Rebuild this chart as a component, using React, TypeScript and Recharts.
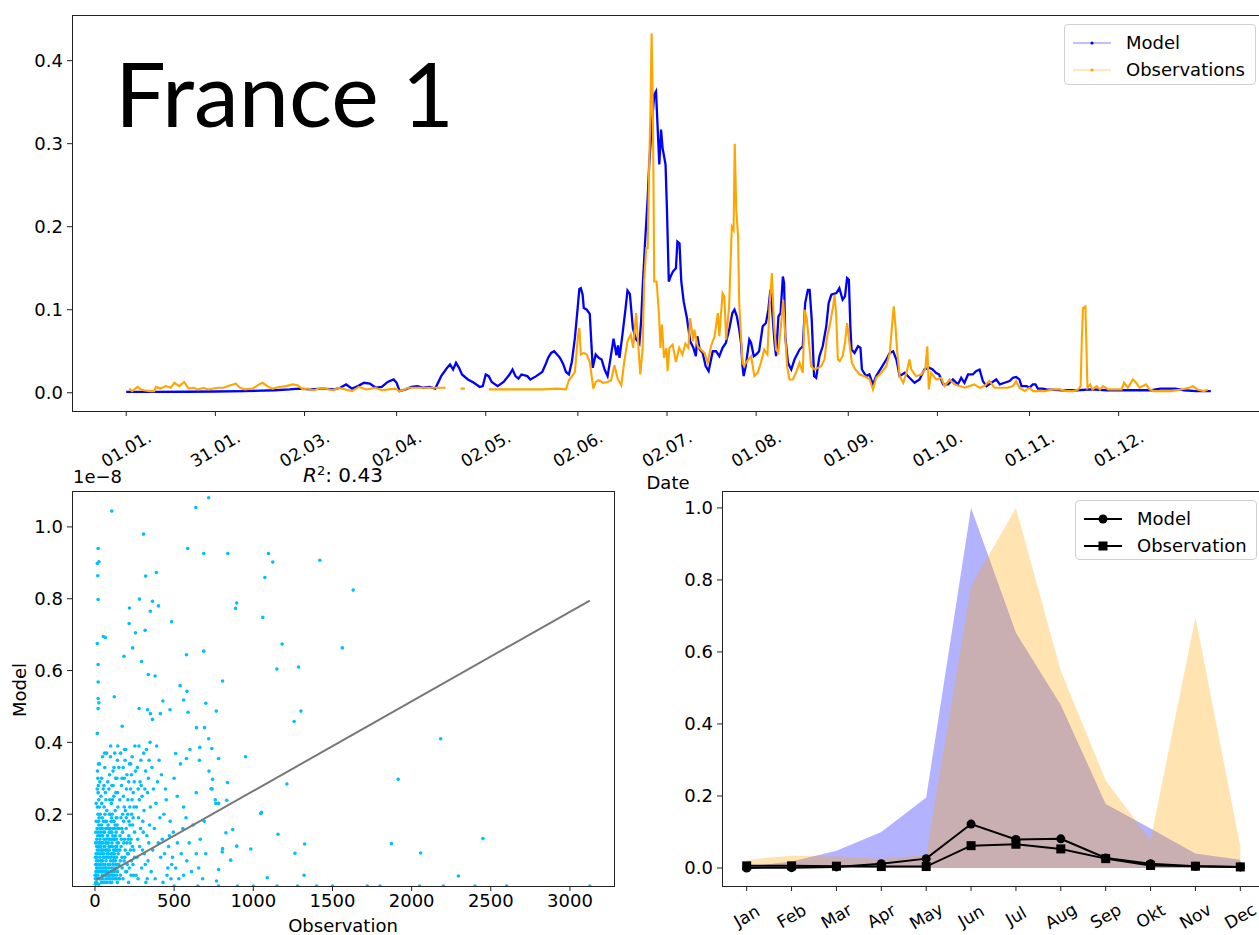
import React from 'react';
import { LineChart, Line, XAxis, YAxis, ScatterChart, Scatter, ComposedChart, Area } from 'recharts';

const FONT = '"DejaVu Sans", Verdana, sans-serif';

// ---------- Top chart: daily series (day of year, value) ----------
const modelSeries: [number, number][] = [
  [0, 0.001], [10, 0.001], [20, 0.0012], [30, 0.0015], [40, 0.002], [50, 0.003], [55, 0.004], [58, 0.005],
  [62, 0.004], [66, 0.005], [70, 0.004], [72, 0.006], [74, 0.01], [76, 0.005], [78, 0.008], [80, 0.012],
  [82, 0.011], [84, 0.006], [86, 0.007], [88, 0.013], [90, 0.016], [91, 0.012], [92, 0.002], [94, 0.004],
  [96, 0.007], [98, 0.008], [100, 0.006], [102, 0.007], [104, 0.005], [106, 0.02], [108, 0.03], [109, 0.034],
  [110, 0.028], [111, 0.036], [112, 0.03], [113, 0.022], [115, 0.016], [117, 0.012], [119, 0.007], [120, 0.008],
  [121, 0.022], [122, 0.02], [123, 0.013], [125, 0.008], [127, 0.013], [129, 0.022], [130, 0.028], [131, 0.02],
  [132, 0.017], [133, 0.022], [135, 0.02], [136, 0.016], [138, 0.02], [140, 0.025], [141, 0.033], [142, 0.042],
  [143, 0.048], [144, 0.05], [145, 0.046], [146, 0.042], [147, 0.035], [148, 0.025], [149, 0.022], [150, 0.038],
  [151, 0.066], [152, 0.105], [152.5, 0.125], [153, 0.126], [153.6, 0.118], [154, 0.102], [155, 0.1], [156, 0.095],
  [157, 0.03], [158, 0.046], [159, 0.042], [160, 0.04], [161, 0.028], [162, 0.02], [163, 0.042], [164, 0.065],
  [165, 0.045], [165.5, 0.057], [166, 0.042], [167, 0.07], [168, 0.1], [168.7, 0.123], [169.5, 0.119], [170.5, 0.078],
  [171.5, 0.065], [172.7, 0.059], [173.3, 0.087], [173.8, 0.127], [174.6, 0.18], [175.5, 0.235], [176, 0.275],
  [176.8, 0.319], [177.7, 0.359], [178.3, 0.363], [178.8, 0.323], [179.4, 0.275], [180, 0.317], [180.5, 0.295],
  [181.5, 0.275], [182, 0.218], [182.6, 0.134], [183.2, 0.14], [184, 0.146], [185, 0.15], [185.5, 0.182],
  [186.2, 0.18], [186.8, 0.134], [187.6, 0.11], [188.7, 0.09], [189.8, 0.062], [190.9, 0.054], [191.7, 0.044],
  [192.2, 0.068], [193, 0.052], [194, 0.048], [195, 0.032], [196, 0.026], [197.4, 0.05], [198.5, 0.05],
  [199.6, 0.044], [200.7, 0.054], [201.8, 0.06], [202.9, 0.076], [204, 0.096], [204.7, 0.1], [205.5, 0.092],
  [206.3, 0.076], [206.9, 0.06], [207.4, 0.032], [207.8, 0.02], [208.5, 0.032], [209.7, 0.064], [210.3, 0.06],
  [211.2, 0.044], [212, 0.046], [213, 0.05], [214.2, 0.08], [215.3, 0.084], [216.1, 0.1], [216.8, 0.124],
  [217.3, 0.104], [218.2, 0.06], [218.7, 0.044], [219.5, 0.092], [220.2, 0.096], [221, 0.14], [221.4, 0.132],
  [221.8, 0.068], [222.7, 0.036], [223.8, 0.028], [224.9, 0.04], [226.6, 0.052], [227.7, 0.056], [228.5, 0.108],
  [229.4, 0.124], [230, 0.124], [230.7, 0.088], [231.5, 0.02], [232.2, 0.018], [233.3, 0.044], [234.4, 0.056],
  [235.6, 0.08], [236.4, 0.108], [237.3, 0.118], [239, 0.12], [240, 0.126], [241.1, 0.112], [241.9, 0.116],
  [242.6, 0.138], [243.2, 0.136], [243.7, 0.08], [244.1, 0.052], [245.1, 0.048], [246.3, 0.056], [247.1, 0.054],
  [247.6, 0.028], [249, 0.02], [250.1, 0.022], [251.3, 0.01], [252.4, 0.02], [254.1, 0.03], [255.8, 0.04],
  [257, 0.048], [258.1, 0.05], [259.2, 0.04], [260.3, 0.02], [262, 0.024], [263.6, 0.018], [265.3, 0.012],
  [267, 0.016], [268.6, 0.028], [270.3, 0.03], [271.4, 0.028], [272.5, 0.024], [273.6, 0.022], [274.9, 0.01],
  [276.6, 0.01], [278.2, 0.016], [279.9, 0.01], [281, 0.018], [282.1, 0.012], [283.3, 0.022], [284.9, 0.022],
  [286, 0.026], [287.2, 0.028], [288.3, 0.014], [289.5, 0.008], [291.2, 0.012], [292.8, 0.016], [294, 0.01],
  [295.6, 0.012], [297.3, 0.014], [298.4, 0.018], [299.5, 0.019], [300.6, 0.016], [301.3, 0.008], [303, 0.008],
  [304, 0.006], [305.1, 0.01], [306, 0.01], [306.8, 0.005], [308.5, 0.005], [309.6, 0.004], [315, 0.003],
  [320, 0.003], [325, 0.004], [330, 0.003], [335, 0.003], [340, 0.003], [345, 0.003], [348, 0.005], [351, 0.005],
  [353, 0.005], [356, 0.003], [360, 0.002], [365, 0.002],
];

const obsSeries: [number, number | null][] = [
  [1, 0.005], [2, 0.002], [3.8, 0.007], [5, 0.004], [6, 0.003], [8, 0.002], [9.4, 0.002], [10, 0.007],
  [11.5, 0.005], [13.4, 0.008], [15, 0.006], [16.2, 0.012], [17.8, 0.008], [19.5, 0.013], [21, 0.005],
  [22.6, 0.006], [24.3, 0.004], [26, 0.006], [27.6, 0.004], [29.3, 0.005], [31, 0.006], [32.7, 0.006],
  [34.3, 0.008], [36.9, 0.011], [38.3, 0.006], [40, 0.004], [42.5, 0.005], [44.7, 0.01], [45.9, 0.012],
  [47.5, 0.008], [49.2, 0.005], [51.5, 0.007], [53.8, 0.008], [56, 0.01], [57.7, 0.009], [59.4, 0.004],
  [61, 0.005], [63, 0.003], [65, 0.005], [67, 0.005], [69.4, 0.003], [71.6, 0.006], [73.8, 0.004], [76, 0.002],
  [78.3, 0.007], [81, 0.004], [83.8, 0.006], [86, 0.003], [88.3, 0.004], [90.5, 0.005], [92, 0.002], [93, 0.003],
  [95, 0.006], [100, 0.006], [105, 0.006], [107.5, 0.006], [108.5, null], [112.5, 0.005], [114, 0.005],
  [115, null], [122, 0.004], [130, 0.004], [140, 0.004], [145, 0.005], [148, 0.004], [149, 0.015], [150, 0.02],
  [151, 0.025], [152, 0.067], [152.5, 0.078], [153, 0.046], [154, 0.048], [155, 0.046], [156, 0.037],
  [157.2, 0.005], [158, 0.013], [159, 0.015], [160.5, 0.012], [162, 0.013], [163.2, 0.015], [164.3, 0.033],
  [165.4, 0.017], [166.6, 0.009], [167.6, 0.037], [168.7, 0.062], [169.8, 0.07], [170.6, 0.054], [171.6, 0.096],
  [172.4, 0.054], [173, 0.022], [173.8, 0.054], [174.3, 0.134], [175, 0.174], [175.5, 0.174], [176, 0.275],
  [176.4, 0.335], [176.8, 0.433], [177.1, 0.375], [177.4, 0.275], [177.7, 0.134], [178.5, 0.134], [179.3, 0.094],
  [179.8, 0.054], [180.3, 0.082], [181, 0.042], [181.8, 0.054], [182.2, 0.026], [182.8, 0.054], [183.9, 0.058],
  [185, 0.037], [186.1, 0.054], [187.2, 0.046], [188.2, 0.059], [189.2, 0.054], [189.8, 0.09], [190.8, 0.062],
  [191.2, 0.076], [192.3, 0.056], [193.4, 0.052], [194.6, 0.048], [195.7, 0.036], [196.8, 0.056], [198, 0.068],
  [199.1, 0.096], [199.6, 0.068], [200.7, 0.12], [201.3, 0.116], [201.9, 0.064], [202.9, 0.104], [203.8, 0.2],
  [204.4, 0.196], [204.8, 0.3], [205.3, 0.22], [205.9, 0.19], [206.3, 0.108], [206.9, 0.068], [207.4, 0.036],
  [208, 0.032], [208.5, 0.036], [210.3, 0.044], [211.4, 0.02], [212.5, 0.024], [213.6, 0.036], [214.7, 0.052],
  [215.8, 0.046], [216.5, 0.104], [217.3, 0.144], [218, 0.084], [218.7, 0.052], [219.5, 0.048], [220.4, 0.084],
  [221.1, 0.112], [221.8, 0.068], [222.4, 0.032], [223.2, 0.016], [224.3, 0.016], [225.4, 0.024], [226.6, 0.036],
  [227.7, 0.024], [228.3, 0.1], [229, 0.09], [229.8, 0.06], [230.5, 0.032], [231.7, 0.028], [232.8, 0.03],
  [233.9, 0.032], [235, 0.04], [235.9, 0.068], [236.7, 0.08], [237.9, 0.104], [238.4, 0.118], [238.9, 0.096],
  [239.5, 0.04], [240.1, 0.038], [241.1, 0.044], [241.9, 0.06], [242.6, 0.084], [243.4, 0.06], [244.2, 0.036],
  [245.4, 0.028], [246.8, 0.022], [248.5, 0.02], [250.2, 0.016], [251.3, 0.004], [252.4, 0.018], [254.1, 0.024],
  [255.8, 0.032], [257, 0.048], [257.7, 0.08], [258.3, 0.104], [258.9, 0.08], [259.5, 0.048], [260.3, 0.02],
  [261.5, 0.012], [262.6, 0.024], [263.6, 0.04], [264.2, 0.028], [265.8, 0.02], [267.6, 0.022], [268.9, 0.028],
  [269.6, 0.056], [270.1, 0.004], [270.9, 0.024], [272.6, 0.016], [274.3, 0.018], [275.4, 0.008], [277.1, 0.016],
  [278.7, 0.01], [280.4, 0.008], [282.1, 0.006], [283.8, 0.008], [285.5, 0.01], [287.2, 0.006], [288.8, 0.008],
  [290.5, 0.014], [292.2, 0.006], [294.4, 0.006], [296.7, 0.006], [298.4, 0.008], [299.5, 0.014], [300.6, 0.006],
  [302.4, 0.002], [304, 0.006], [305.1, 0.002], [307, 0.002], [309.2, 0.002], [312, 0.004], [314.2, 0.004],
  [316.5, 0.002], [318.7, 0.002], [320.4, 0.004], [321.2, 0.008], [321.6, 0.064], [322, 0.102], [322.8, 0.104],
  [323.1, 0.064], [323.5, 0.006], [324.4, 0.01], [325.2, 0.004], [326.6, 0.008], [327.7, 0.004], [328.8, 0.008],
  [330.5, 0.004], [332.7, 0.004], [335, 0.004], [335.8, 0.012], [337.1, 0.006], [338.8, 0.016], [339.9, 0.012],
  [341, 0.006], [343.2, 0.01], [344.4, 0.004], [346, 0.002], [348.3, 0.002], [351.6, 0.002], [355, 0.004],
  [357.7, 0.006], [359, 0.008], [360.5, 0.004], [362.7, 0.002], [364, 0.004],
];

const dateTicks = [0, 30, 60, 91, 121, 152, 182, 212, 243, 273, 304, 334];
const dateLabels = ['01.01.', '31.01.', '02.03.', '02.04.', '02.05.', '02.06.', '02.07.', '01.08.', '01.09.', '01.10.', '01.11.', '01.12.'];
const topYTicks = [0, 0.1, 0.2, 0.3, 0.4];

// ---------- Bottom-left: scatter (Observation, Model x1e-8) ----------
const scatterOutliers: [number, number][] = [
  [106, 1.044], [718, 1.081], [637, 1.054], [307, 0.98], [20, 0.94], [586, 0.94], [687, 0.926], [839, 0.926],
  [1096, 0.926], [1123, 0.902], [1420, 0.907], [25, 0.903], [15, 0.898], [18, 0.864], [320, 0.863], [388, 0.873],
  [1073, 0.859], [1631, 0.824], [20, 0.798], [281, 0.799], [363, 0.793], [401, 0.78], [218, 0.774], [895, 0.788],
  [888, 0.773], [350, 0.765], [1060, 0.748], [484, 0.736], [216, 0.731], [317, 0.712], [256, 0.705], [15, 0.675],
  [53, 0.695], [66, 0.692], [1182, 0.674], [1562, 0.663], [238, 0.663], [687, 0.654], [183, 0.64], [578, 0.644],
  [294, 0.625], [20, 0.617], [1149, 0.604], [1286, 0.61], [337, 0.589], [380, 0.585], [20, 0.568], [806, 0.571],
  [538, 0.558], [581, 0.542], [20, 0.522], [122, 0.527], [25, 0.51], [20, 0.494], [560, 0.518], [429, 0.515],
  [700, 0.509], [279, 0.494], [332, 0.491], [474, 0.491], [350, 0.48], [413, 0.48], [588, 0.484], [766, 0.487],
  [1301, 0.487], [1258, 0.458], [363, 0.464], [641, 0.441], [692, 0.441], [15, 0.425], [172, 0.445], [2183, 0.41],
  [718, 0.41], [738, 0.383], [662, 0.386], [951, 0.36], [1915, 0.297], [1212, 0.284], [837, 0.288], [743, 0.297],
  [733, 0.271], [781, 0.355], [578, 0.355], [510, 0.369], [1047, 0.202], [1052, 0.205], [832, 0.239], [870, 0.157],
  [827, 0.148], [781, 0.23], [763, 0.23], [1156, 0.144], [1872, 0.118], [2450, 0.132], [1324, 0.117], [1263, 0.091],
  [2057, 0.092], [984, 0.103], [895, 0.111], [781, 0.046], [857, 0.072], [2295, 0.028], [1321, 0.03], [1088, 0.023],
  [768, 0.014], [806, 0.104], [804, 0.095],
  [500, 0], [650, 0], [780, 0], [900, 0], [1000, 0], [1150, 0], [1280, 0], [1400, 0], [1500, 0], [1720, 0],
  [1800, 0], [2050, 0], [2200, 0], [2400, 0], [2600, 0], [3125, 0],
];
const scatterCluster: [number, number][] = [
  [5, 0.01], [8, 0.03], [10, 0.05], [12, 0.08], [15, 0.02], [18, 0.12], [20, 0.15], [22, 0.18], [15, 0.22],
  [20, 0.26], [18, 0.3], [22, 0.34], [25, 0.1], [28, 0.06], [12, 0.13], [17, 0.09], [24, 0.24], [19, 0.2],
  [21, 0.28], [16, 0.32], [35, 0.02], [40, 0.05], [45, 0.09], [50, 0.12], [55, 0.15], [60, 0.04], [65, 0.18],
  [70, 0.07], [75, 0.21], [38, 0.25], [42, 0.3], [48, 0.36], [52, 0.27], [58, 0.22], [62, 0.33], [68, 0.13],
  [72, 0.1], [78, 0.03], [33, 0.16], [46, 0.19], [56, 0.01], [66, 0.26], [74, 0.37], [36, 0.11], [44, 0.14],
  [54, 0.06], [64, 0.08], [76, 0.16], [85, 0.02], [90, 0.06], [95, 0.11], [100, 0.15], [105, 0.19], [110, 0.24],
  [115, 0.28], [120, 0.33], [125, 0.37], [130, 0.08], [135, 0.13], [140, 0.17], [145, 0.22], [88, 0.27],
  [92, 0.31], [98, 0.36], [102, 0.04], [108, 0.09], [112, 0.14], [118, 0.18], [122, 0.05], [128, 0.21],
  [132, 0.26], [138, 0.3], [142, 0.35], [148, 0.12], [86, 0.16], [96, 0.2], [106, 0.01], [116, 0.07], [126, 0.1],
  [136, 0.03], [146, 0.06], [84, 0.09], [94, 0.13], [104, 0.23], [114, 0.32], [124, 0.16], [134, 0.19], [144, 0.39],
  [155, 0.02], [160, 0.07], [165, 0.11], [170, 0.16], [175, 0.2], [180, 0.25], [185, 0.3], [190, 0.35], [195, 0.38],
  [200, 0.04], [205, 0.09], [210, 0.13], [215, 0.18], [220, 0.22], [225, 0.27], [230, 0.31], [235, 0.36],
  [240, 0.06], [245, 0.1], [250, 0.15], [158, 0.14], [168, 0.28], [178, 0.33], [188, 0.08], [198, 0.19],
  [208, 0.24], [218, 0.34], [228, 0.03], [238, 0.17], [248, 0.29], [162, 0.37], [172, 0.05], [182, 0.12],
  [192, 0.21], [202, 0.31], [212, 0.01], [222, 0.12], [232, 0.2], [242, 0.26], [252, 0.39],
  [260, 0.03], [265, 0.08], [270, 0.13], [275, 0.19], [280, 0.24], [285, 0.29], [290, 0.35], [295, 0.05],
  [300, 0.1], [305, 0.15], [310, 0.21], [315, 0.27], [320, 0.32], [325, 0.38], [330, 0.02], [335, 0.07],
  [340, 0.12], [345, 0.17], [350, 0.22], [268, 0.33], [278, 0.39], [288, 0.16], [298, 0.25], [308, 0.37],
  [318, 0.06], [328, 0.14], [338, 0.3], [348, 0.4], [262, 0.22], [272, 0.02], [282, 0.11], [292, 0.28],
  [302, 0.18], [312, 0.09], [322, 0.01], [332, 0.26], [342, 0.35],
  [355, 0.04], [365, 0.1], [375, 0.16], [385, 0.23], [395, 0.29], [405, 0.35], [415, 0.08], [425, 0.13],
  [435, 0.2], [445, 0.27], [455, 0.03], [465, 0.11], [475, 0.18], [485, 0.06], [495, 0.15], [360, 0.33],
  [370, 0.27], [380, 0.02], [390, 0.39], [400, 0.12], [410, 0.19], [420, 0.31], [430, 0.01], [440, 0.09],
  [450, 0.24], [460, 0.05], [470, 0.14], [480, 0.02], [490, 0.08], [500, 0.3],
  [510, 0.05], [520, 0.12], [530, 0.02], [545, 0.09], [555, 0.16], [560, 0.03], [575, 0.19], [580, 0.07],
  [595, 0.12], [610, 0.04], [620, 0.17], [640, 0.09], [655, 0.05], [665, 0.13], [690, 0.18], [520, 0.25],
  [540, 0.34], [560, 0.22], [600, 0.38], [640, 0.26], [660, 0.35], [700, 0.09], [720, 0.32], [740, 0.27],
  [760, 0.24], [680, 0.02],
];
const scatterCore: [number, number][] = [
  [3, 0.005], [6, 0.04], [9, 0.07], [14, 0.1], [26, 0.04], [31, 0.08], [34, 0.12], [39, 0.02], [43, 0.07],
  [47, 0.03], [51, 0.1], [57, 0.13], [61, 0.01], [67, 0.05], [71, 0.12], [77, 0.09], [81, 0.14], [87, 0.05],
  [91, 0.1], [97, 0.02], [101, 0.08], [107, 0.12], [111, 0.04], [117, 0.1], [121, 0.13], [127, 0.02],
  [131, 0.06], [137, 0.11], [141, 0.01], [147, 0.09], [4, 0.06], [11, 0.11], [29, 0.14], [37, 0.06], [53, 0.08],
  [63, 0.11], [69, 0.02], [79, 0.12], [83, 0.06], [89, 0.11], [99, 0.07], [103, 0.13], [109, 0.03], [119, 0.08],
  [129, 0.14], [139, 0.05], [149, 0.02], [23, 0.005], [41, 0.1], [59, 0.06], [73, 0.04], [93, 0.03], [113, 0.06],
  [133, 0.1], [2, 0.02], [7, 0.09], [13, 0.04], [27, 0.12], [49, 0.14], [87, 0.13],
  [1, 0.03], [3, 0.08], [4, 0.12], [6, 0.15], [8, 0.18], [9, 0.01], [11, 0.02], [13, 0.06], [14, 0.16], [16, 0.05],
  [17, 0.14], [19, 0.03], [21, 0.07], [23, 0.11], [24, 0.17], [26, 0.19], [27, 0.02], [29, 0.05], [30, 0.09],
  [32, 0.13], [33, 0.2], [35, 0.07], [36, 0.15], [38, 0.04], [39, 0.1], [41, 0.17], [42, 0.01], [44, 0.04],
  [45, 0.12], [47, 0.16], [48, 0.07], [50, 0.02], [52, 0.05], [53, 0.18], [55, 0.09], [57, 0.03], [58, 0.11],
  [60, 0.15], [62, 0.06], [63, 0.2], [65, 0.1], [66, 0.03], [68, 0.16], [70, 0.12], [71, 0.05], [73, 0.18],
  [75, 0.08], [76, 0.01], [78, 0.14], [80, 0.04], [82, 0.1], [83, 0.17], [85, 0.12], [86, 0.03], [88, 0.08],
  [90, 0.15], [91, 0.2], [93, 0.06], [95, 0.01], [96, 0.16], [98, 0.11], [100, 0.04], [102, 0.18], [103, 0.09],
  [105, 0.05], [107, 0.15], [108, 0.2], [110, 0.11], [112, 0.02], [113, 0.16], [115, 0.07], [117, 0.13],
  [118, 0.03], [120, 0.18], [122, 0.09], [124, 0.13], [125, 0.04], [127, 0.17], [129, 0.07], [131, 0.11],
  [133, 0.02], [134, 0.15], [136, 0.08], [138, 0.19], [140, 0.12], [142, 0.04], [143, 0.16], [145, 0.1],
  [150, 0.06], [153, 0.16], [157, 0.1], [161, 0.03], [164, 0.19], [167, 0.13], [171, 0.08], [174, 0.15],
  [177, 0.02], [181, 0.18], [184, 0.07], [187, 0.13], [191, 0.1], [194, 0.04], [197, 0.16], [201, 0.12],
  [204, 0.06], [207, 0.2], [211, 0.09], [214, 0.14], [217, 0.05], [221, 0.17], [224, 0.1], [227, 0.13],
  [231, 0.07], [234, 0.24], [237, 0.11], [241, 0.19], [244, 0.03], [247, 0.22], [251, 0.08], [8, 0.23],
  [14, 0.27], [27, 0.22], [31, 0.29], [43, 0.23], [57, 0.28], [69, 0.24], [81, 0.29], [93, 0.24], [107, 0.28],
  [119, 0.25], [131, 0.3], [143, 0.26], [157, 0.24], [171, 0.3], [185, 0.22], [199, 0.27], [213, 0.29],
  [226, 0.34], [256, 0.32], [273, 0.27], [29, 0.34], [61, 0.37], [99, 0.39], [151, 0.33], [187, 0.38],
];
const fitObs = [8, 3125];
const fitModel = [0.017, 0.795];
const scatterXTicks = [0, 500, 1000, 1500, 2000, 2500, 3000];
const scatterYTicks = [0.2, 0.4, 0.6, 0.8, 1.0];

// ---------- Bottom-right: monthly ----------
const months = ['Jan', 'Feb', 'Mar', 'Apr', 'May', 'Jun', 'Jul', 'Aug', 'Sep', 'Okt', 'Nov', 'Dec'];
const modelNorm = [0.003, 0.018, 0.048, 0.1, 0.196, 1.0, 0.653, 0.453, 0.178, 0.11, 0.04, 0.023];
const obsNorm = [0.023, 0.034, 0.032, 0.025, 0.037, 0.783, 1.0, 0.548, 0.243, 0.077, 0.696, 0.06];
const modelMonthly = [0.0, 0.001, 0.003, 0.012, 0.026, 0.122, 0.079, 0.081, 0.028, 0.012, 0.005, 0.003];
const obsMonthly = [0.006, 0.006, 0.005, 0.004, 0.004, 0.062, 0.066, 0.053, 0.026, 0.007, 0.005, 0.003];
const monthYTicks = [0, 0.2, 0.4, 0.6, 0.8, 1.0];

const modelData = modelSeries.map(([day, v]) => ({ day, v }));
const obsData = obsSeries.map(([day, v]) => ({ day, v }));
const scatterData = [...scatterOutliers, ...scatterCluster, ...scatterCore].map(([x, y]) => ({ x, y }));
const fitData = fitObs.map((x, i) => ({ x, y: fitModel[i] }));
const monthData = months.map((m, i) => ({
  m: i, modelNorm: modelNorm[i], obsNorm: obsNorm[i], model: modelMonthly[i], obs: obsMonthly[i],
}));

const tickStyle = { fontSize: 18, fontFamily: FONT, fill: '#000' };

const RotTick = (props: any) => {
  const { x, y, payload, labels, dy, fs } = props;
  const label = labels(payload.value);
  return (
    <g transform={`translate(${x},${y + dy})`}>
      <text textAnchor="middle" dominantBaseline="central" transform="rotate(-30)"
        style={{ fontSize: fs, fontFamily: FONT, fill: '#000' }}>{label}</text>
    </g>
  );
};

const Frame = ({ left, top, width, height }: any) => (
  <div style={{ position: 'absolute', left, top, width, height, border: '1.3px solid #222', boxSizing: 'border-box', pointerEvents: 'none' }} />
);

const Txt = ({ left, top, children, size = 18, family = FONT, rotate = 0, anchor = 'center' }: any) => (
  <div style={{
    position: 'absolute', left, top, fontSize: size, fontFamily: family, color: '#000', whiteSpace: 'nowrap',
    lineHeight: 1, transform: `translate(${anchor === 'center' ? '-50%' : '0'}, -50%) rotate(${rotate}deg)`,
  }}>{children}</div>
);

const LegendLine = ({ color, marker }: any) => (
  <svg width={40} height={14} style={{ display: 'block' }}>
    <line x1={0} y1={7} x2={38} y2={7} stroke={color} strokeWidth={marker === 'dot' ? 1.2 : 2} strokeOpacity={marker === 'dot' ? 0.5 : 1} />
    {marker === 'dot' && <circle cx={19} cy={7} r={1.6} fill={color} />}
    {marker === 'circle' && <circle cx={19} cy={7} r={4.5} fill={color} />}
    {marker === 'square' && <rect x={14.5} y={2.5} width={9} height={9} fill={color} />}
  </svg>
);

const LegendBox = ({ left, top, width, height, items }: any) => (
  <div style={{
    position: 'absolute', left, top, width, height, border: '1px solid #d0d0d0', borderRadius: 4,
    background: 'rgba(255,255,255,0.85)', boxSizing: 'border-box', padding: '4px 0 0 8px',
  }}>
    {items.map((it: any) => (
      <div key={it.label} style={{ display: 'flex', alignItems: 'center', height: 27 }}>
        <LegendLine color={it.color} marker={it.marker} />
        <span style={{ marginLeft: 13, fontSize: 18, fontFamily: FONT, color: '#000' }}>{it.label}</span>
      </div>
    ))}
  </div>
);

export default function App() {
  return (
    <div style={{ position: 'absolute', left: 0, top: 0, width: 1259, height: 935, overflow: 'hidden', background: '#fff' }}>
      {/* Top time series */}
      <div style={{ position: 'absolute', left: 0, top: 0 }}>
        <LineChart width={1275} height={495} margin={{ top: 15, right: 10, bottom: 0, left: 0 }}>
          <XAxis type="number" dataKey="day" domain={[-18.25, 383.25]} allowDataOverflow ticks={dateTicks}
            axisLine={false} tickSize={5} tickLine={{ stroke: '#222' }} height={84} interval={0}
            tick={<RotTick labels={(v: number) => dateLabels[dateTicks.indexOf(v)]} dy={31} fs={17} />} />
          <YAxis type="number" domain={[-0.022, 0.455]} allowDataOverflow ticks={topYTicks} width={72}
            axisLine={false} tickSize={5} tickMargin={4} tickLine={{ stroke: '#222' }}
            tickFormatter={(v: number) => v.toFixed(1)} tick={tickStyle} />
          <Line data={modelData} dataKey="v" stroke="blue" strokeWidth={2.3} dot={false} isAnimationActive={false} />
          <Line data={obsData} dataKey="v" stroke="orange" strokeWidth={2.1} dot={false} isAnimationActive={false} />
        </LineChart>
      </div>
      <Frame left={72} top={15} width={1193} height={397} />
      <Txt left={115} top={92} size={90} anchor="left" family={'Lato, "Open Sans", sans-serif'}>France 1</Txt>
      <LegendBox left={1064} top={24} width={192} height={61}
        items={[{ label: 'Model', color: 'blue', marker: 'dot' }, { label: 'Observations', color: 'orange', marker: 'dot' }]} />
      <Txt left={668} top={483}>Date</Txt>

      {/* Bottom-left scatter */}
      <div style={{ position: 'absolute', left: 0, top: 460 }}>
        <ScatterChart width={630} height={475} margin={{ top: 31, right: 16, bottom: 0, left: 0 }}>
          <XAxis type="number" dataKey="x" domain={[-145, 3278]} allowDataOverflow ticks={scatterXTicks}
            axisLine={false} tickSize={5} tickMargin={3} tickLine={{ stroke: '#222' }} height={49} interval={0} tick={tickStyle} />
          <YAxis type="number" dataKey="y" domain={[0, 1.1]} allowDataOverflow ticks={scatterYTicks} width={72}
            axisLine={false} tickSize={5} tickMargin={4} tickLine={{ stroke: '#222' }}
            tickFormatter={(v: number) => v.toFixed(1)} tick={tickStyle} interval={0} />
          <Scatter data={scatterData} fill="#00bfff" isAnimationActive={false}
            shape={(p: any) => <circle cx={p.cx} cy={p.cy} r={1.8} fill="#00bfff" />} />
          <Scatter data={fitData} isAnimationActive={false} line={{ stroke: '#777', strokeWidth: 2 }}
            shape={() => <g />} />
        </ScatterChart>
      </div>
      <Frame left={72} top={491} width={543} height={396} />
      <Txt left={343} top={474} size={20}><span style={{ fontStyle: 'italic' }}>R</span><sup style={{ fontSize: 13, verticalAlign: 7 }}>2</sup>: 0.43</Txt>
      <Txt left={73} top={477} anchor="left">1e−8</Txt>
      <Txt left={343} top={926}>Observation</Txt>
      <Txt left={20} top={690} rotate={-90}>Model</Txt>

      {/* Bottom-right monthly */}
      <div style={{ position: 'absolute', left: 630, top: 460 }}>
        <ComposedChart width={640} height={475} data={monthData} margin={{ top: 31, right: 5, bottom: 0, left: 0 }}>
          <XAxis type="number" dataKey="m" domain={[-0.55, 11.55]} allowDataOverflow ticks={months.map((_, i) => i)}
            axisLine={false} tickSize={5} tickLine={{ stroke: '#222' }} height={49} interval={0}
            tick={<RotTick labels={(v: number) => months[v]} dy={23} fs={17} />} />
          <YAxis type="number" domain={[-0.05, 1.047]} allowDataOverflow ticks={monthYTicks} width={92}
            axisLine={false} tickSize={5} tickMargin={4} tickLine={{ stroke: '#222' }}
            tickFormatter={(v: number) => v.toFixed(1)} tick={tickStyle} interval={0} />
          <Area dataKey="modelNorm" type="linear" baseValue={0} stroke="none" fill="blue" fillOpacity={0.3} isAnimationActive={false} />
          <Area dataKey="obsNorm" type="linear" baseValue={0} stroke="none" fill="orange" fillOpacity={0.3} isAnimationActive={false} />
          <Line dataKey="model" type="linear" stroke="#000" strokeWidth={2} isAnimationActive={false}
            dot={(p: any) => <circle key={`c${p.index}`} cx={p.cx} cy={p.cy} r={4.5} fill="#000" />} />
          <Line dataKey="obs" type="linear" stroke="#000" strokeWidth={2} isAnimationActive={false}
            dot={(p: any) => <rect key={`s${p.index}`} x={p.cx - 4.5} y={p.cy - 4.5} width={9} height={9} fill="#000" />} />
        </ComposedChart>
      </div>
      <Frame left={722} top={491} width={543} height={396} />
      <LegendBox left={1075} top={500} width={182} height={60}
        items={[{ label: 'Model', color: '#000', marker: 'circle' }, { label: 'Observation', color: '#000', marker: 'square' }]} />
    </div>
  );
}
